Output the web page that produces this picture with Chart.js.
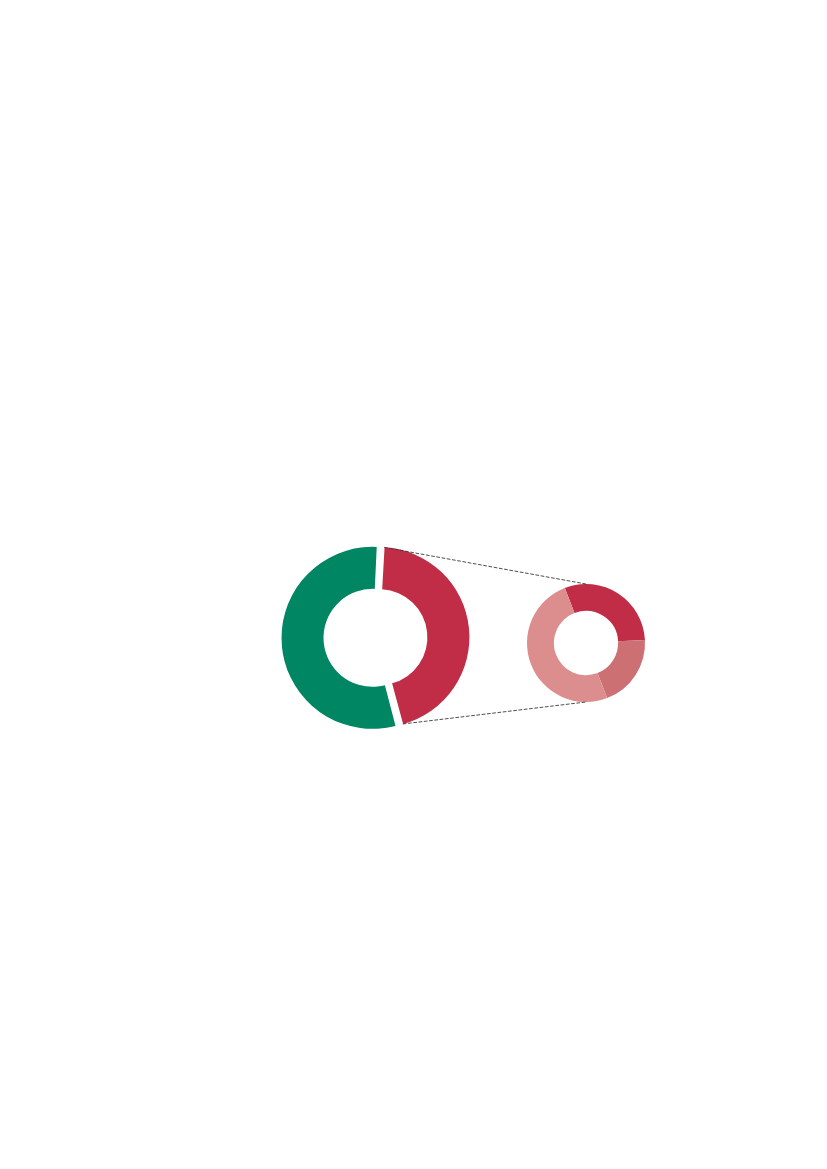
<!DOCTYPE html>
<html>
<head>
<meta charset="utf-8">
<script src="https://cdn.jsdelivr.net/npm/chart.js@4/dist/chart.umd.min.js"></script>
<style>
  html, body { margin: 0; padding: 0; background: #ffffff; }
  #wrap { position: relative; width: 827px; height: 1169px; background: #ffffff; overflow: hidden; }
  #wrap canvas { position: absolute; left: 0; top: 0; }
</style>
</head>
<body>
<div id="wrap">
  <canvas id="mainPie" width="827" height="1169"></canvas>
  <canvas id="subPie" width="827" height="1169"></canvas>
</div>
<script>
// ---- data ----
const mainLabels = ['B', 'A'];
const mainValues = [45, 55];
const mainColors = ['#c12c46', '#008662'];

const subLabels = ['B1', 'B2', 'B3'];
const subValues = [30, 20, 50];
const subColors = ['#c12c46', '#cc7074', '#db8e8d'];

const W = 827, H = 1169;

Chart.defaults.animation = false;

function centerPadding(cx, cy) {
  // place chart area centre at (cx, cy) on a full-page canvas
  const dx = 2 * cx - W, dy = 2 * cy - H;
  return {
    left: dx > 0 ? dx : 0, right: dx < 0 ? -dx : 0,
    top: dy > 0 ? dy : 0, bottom: dy < 0 ? -dy : 0
  };
}

const mainChart = new Chart(document.getElementById('mainPie'), {
  type: 'doughnut',
  data: {
    labels: mainLabels,
    datasets: [{
      data: mainValues,
      backgroundColor: mainColors,
      borderWidth: 0,
      offset: 14,
      hoverOffset: 0
    }]
  },
  options: {
    responsive: false,
    devicePixelRatio: 1,
    rotation: 3,
    radius: 87.5,
    cutout: '52%',
    layout: { padding: centerPadding(376, 637.5) },
    plugins: { legend: { display: false }, tooltip: { enabled: false } },
    events: []
  }
});

const connectorPlugin = {
  id: 'connectors',
  afterDraw(chart) {
    const mArc = mainChart.getDatasetMeta(0).data[0];
    const sArcs = chart.getDatasetMeta(0).data;
    if (!mArc || !sArcs.length) return;
    const p = mArc.getProps(['x', 'y', 'startAngle', 'endAngle', 'outerRadius', 'circumference']);
    const off = (mArc.options.offset || 0) / 4;
    const half = (p.startAngle + p.endAngle) / 2;
    const fix = 1 - Math.sin(Math.min(Math.PI, p.circumference));
    const r = p.outerRadius + off * fix;
    const ox = p.x + Math.cos(half) * off, oy = p.y + Math.sin(half) * off;
    const a1 = { x: ox + Math.cos(p.startAngle) * r, y: oy + Math.sin(p.startAngle) * r };
    const a2 = { x: ox + Math.cos(p.endAngle) * r, y: oy + Math.sin(p.endAngle) * r };
    const s = sArcs[0];
    const b1 = { x: s.x, y: s.y - s.outerRadius };
    const b2 = { x: s.x, y: s.y + s.outerRadius };
    const ctx = chart.ctx;
    ctx.save();
    ctx.strokeStyle = '#3a3a3a';
    ctx.lineWidth = 0.9;
    ctx.setLineDash([3.7, 1.6]);
    ctx.beginPath();
    ctx.moveTo(a1.x, a1.y); ctx.lineTo(b1.x, b1.y);
    ctx.moveTo(a2.x, a2.y); ctx.lineTo(b2.x, b2.y);
    ctx.stroke();
    ctx.restore();
  }
};

const subChart = new Chart(document.getElementById('subPie'), {
  type: 'doughnut',
  data: {
    labels: subLabels,
    datasets: [{
      data: subValues,
      backgroundColor: subColors,
      borderWidth: 0,
      hoverOffset: 0
    }]
  },
  options: {
    responsive: false,
    devicePixelRatio: 1,
    rotation: -21,
    radius: 59,
    cutout: '54.5%',
    layout: { padding: centerPadding(586, 643) },
    plugins: { legend: { display: false }, tooltip: { enabled: false } },
    events: []
  },
  plugins: [connectorPlugin]
});
</script>
</body>
</html>
